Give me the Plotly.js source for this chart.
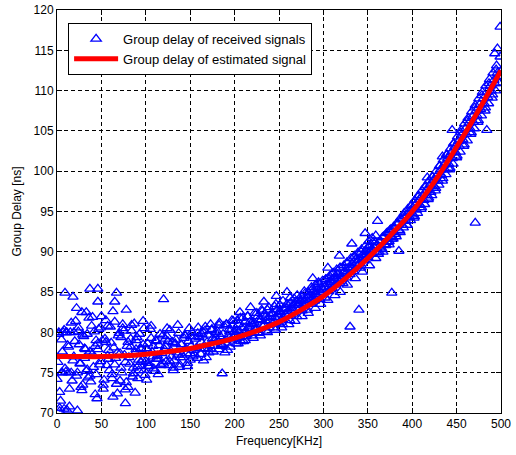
<!DOCTYPE html>
<html>
<head>
<meta charset="utf-8">
<script src="https://cdn.plot.ly/plotly-3.0.1.min.js"></script>
<style>html,body{margin:0;padding:0;background:#fff;}#chart{width:516px;height:455px;}</style>
</head>
<body>
<div id="chart"></div>
<script>
// Received group delay samples, set A at even frequencies
const freqA = [0,2,4,6,8,10,12,14,16,18,20,22,24,26,28,30,32,34,36,38,40,42,44,46,48,50,52,54,56,58,60,62,64,66,68,70,72,74,76,78,80,82,84,86,88,90,92,94,96,98,100,102,104,106,108,110,112,114,116,118,120,122,124,126,128,130,132,134,136,138,140,142,144,146,148,150,152,154,156,158,160,162,164,166,168,170,172,174,176,178,180,182,184,186,188,190,192,194,196,198,200,202,204,206,208,210,212,214,216,218,220,222,224,226,228,230,232,234,236,238,240,242,244,246,248,250,252,254,256,258,260,262,264,266,268,270,272,274,276,278,280,282,284,286,288,290,292,294,296,298,300,302,304,306,308,310,312,314,316,318,320,322,324,326,328,330,332,334,336,338,340,342,344,346,348,350,352,354,356,358,360,362,364,366,368,370,372,374,376,378,380,382,384,386,388,390,392,394,396,398,400,402,404,406,408,410,412,414,416,418,420,422,424,426,428,430,432,434,436,438,440,442,444,446,448,450,452,454,456,458,460,462,464,466,468,470,472,474,476,478,480,482,484,486,488,490,492,494,496,498,500];
const delayA = [
74.2,79.8,71.5,77.6,80.3,75.1,78.4,73.0,81.2,76.5,
78.9,74.6,80.6,76.2,72.8,79.5,77.9,75.4,81.8,73.9,
77.3,80.1,74.8,78.6,76.0,82.0,73.5,79.2,75.9,77.8,
80.7,74.3,78.1,76.8,72.4,79.9,75.6,81.0,77.2,73.8,
78.8,76.1,80.2,74.9,77.5,79.4,75.3,78.0,76.6,80.5,
76.4,78.6,75.8,79.3,77.0,75.2,78.9,76.7,79.8,77.4,
76.1,78.3,79.5,75.9,77.7,78.8,76.5,79.1,77.2,75.7,
78.5,76.9,79.6,77.4,78.9,76.6,80.0,77.8,79.2,76.8,
79.4,77.3,80.1,78.0,76.9,79.7,78.4,80.3,77.6,79.0,
80.2,77.9,79.5,78.3,80.8,78.7,77.8,80.4,79.1,80.9,
80.1,78.6,81.0,79.4,80.6,78.9,81.3,79.8,80.5,81.4,
79.6,81.2,80.4,82.0,80.0,81.6,80.7,82.3,80.2,81.8,
81.5,82.4,80.6,81.9,82.8,81.2,82.5,81.0,83.0,82.1,
82.6,81.5,83.2,82.3,83.6,82.0,83.4,84.0,82.7,83.8,
84.2,82.8,84.6,83.5,85.0,83.9,84.7,85.4,84.1,85.6,
85.2,84.3,86.0,85.1,86.4,85.5,86.8,85.9,87.2,86.3,
87.0,86.1,87.6,86.8,88.0,87.2,88.5,87.6,89.0,88.2,
89.0,88.0,89.6,88.9,90.2,89.3,90.8,89.8,91.2,90.4,
90.8,89.7,91.4,90.3,91.9,90.8,92.4,91.3,92.8,91.8,
93.0,91.9,93.5,92.6,94.0,93.0,94.4,93.3,94.9,93.9,
95.4,94.2,95.9,94.8,96.5,95.3,97.0,95.9,97.6,96.5,
98.3,97.0,98.9,97.6,99.5,98.3,100.2,98.8,100.8,99.6,
101.6,100.2,102.3,100.9,103.0,101.7,103.7,102.4,104.5,103.1,
105.3,103.8,106.0,104.6,106.8,105.3,107.5,106.1,108.3,106.9,
109.0,107.5,109.8,108.4,110.6,109.1,111.3,110.0,112.2,110.9,
112.4];
// set B at odd frequencies
const freqB = [1,3,5,7,9,11,13,15,17,19,21,23,25,27,29,31,33,35,37,39,41,43,45,47,49,51,53,55,57,59,61,63,65,67,69,71,73,75,77,79,81,83,85,87,89,91,93,95,97,99,101,103,105,107,109,111,113,115,117,119,121,123,125,127,129,131,133,135,137,139,141,143,145,147,149,151,153,155,157,159,161,163,165,167,169,171,173,175,177,179,181,183,185,187,189,191,193,195,197,199,201,203,205,207,209,211,213,215,217,219,221,223,225,227,229,231,233,235,237,239,241,243,245,247,249,251,253,255,257,259,261,263,265,267,269,271,273,275,277,279,281,283,285,287,289,291,293,295,297,299,301,303,305,307,309,311,313,315,317,319,321,323,325,327,329,331,333,335,337,339,341,343,345,347,349,351,353,355,357,359,361,363,365,367,369,371,373,375,377,379,381,383,385,387,389,391,393,395,397,399,401,403,405,407,409,411,413,415,417,419,421,423,425,427,429,431,433,435,437,439,441,443,445,447,449,451,453,455,457,459,461,463,465,467,469,471,473,475,477,479,481,483,485,487,489,491,493,495,497,499];
const delayB = [
76.3,72.6,79.1,80.0,75.5,70.4,78.2,80.0,74.0,77.0,
81.4,75.0,78.5,73.2,79.7,76.8,82.5,74.4,77.6,80.8,
75.7,78.3,71.8,80.4,76.4,79.0,74.1,81.5,77.1,75.3,
78.7,82.6,76.0,73.6,79.6,77.4,75.0,80.2,72.9,78.3,
76.9,79.2,74.5,81.1,77.9,75.8,79.8,76.3,78.5,74.7,
78.0,76.2,80.4,77.6,75.5,79.0,77.1,78.4,76.0,79.6,
77.9,76.4,78.9,80.3,77.0,75.6,78.6,77.5,79.9,76.9,
77.2,79.3,78.0,76.2,80.5,78.3,77.0,79.5,78.1,80.6,
78.0,79.8,76.5,80.7,78.8,77.5,81.0,79.2,78.3,80.0,
79.0,81.2,78.5,79.8,77.5,81.0,79.6,78.2,81.5,80.0,
79.7,81.5,80.2,78.9,81.8,80.0,79.5,82.0,80.8,79.9,
81.0,80.3,82.4,79.9,81.5,82.6,80.9,81.4,82.8,80.6,
82.0,81.1,83.2,81.7,82.2,83.4,81.6,82.9,82.3,83.5,
82.2,83.7,82.8,84.2,83.0,83.9,82.9,84.5,83.4,84.8,
83.6,85.0,84.0,85.3,84.4,85.9,84.5,86.0,85.0,86.4,
85.6,86.6,85.4,87.0,86.2,87.4,86.5,87.8,86.6,88.0,
86.7,88.3,87.3,88.6,87.8,89.2,88.0,89.5,88.6,89.9,
88.6,90.3,89.3,90.7,89.7,91.3,90.0,91.7,90.6,92.0,
89.9,91.2,90.5,91.8,90.9,92.3,91.2,92.7,91.6,93.1,
92.2,93.6,92.7,94.2,93.3,94.8,93.8,95.3,94.3,95.8,
94.6,96.4,95.2,97.0,95.8,97.6,96.4,98.2,97.0,98.8,
97.4,99.3,98.1,100.0,98.8,100.7,99.5,101.4,100.2,102.1,
100.9,102.8,101.6,103.5,102.3,104.3,103.1,105.1,103.9,105.9,
104.6,106.6,105.3,107.4,106.1,108.2,106.9,109.0,107.7,109.8,
108.4,110.6,109.2,111.4,110.0,112.2,110.9,113.1,111.8,114.2];
// set D, extra samples in the upper band
const freqD = [150.5,154.5,158.5,162.5,166.5,170.5,174.5,178.5,182.5,186.5,190.5,194.5,198.5,202.5,206.5,210.5,214.5,218.5,222.5,226.5,230.5,234.5,238.5,242.5,246.5,250.5,254.5,258.5,262.5,266.5,270.5,274.5,278.5,282.5,286.5,290.5,294.5,298.5,302.5,306.5,310.5,314.5,318.5,322.5,326.5,330.5,334.5,338.5,342.5,346.5,350.5,354.5,358.5,362.5,366.5,370.5,374.5,378.5,382.5,386.5,390.5,394.5,398.5,402.5,406.5,410.5,414.5,418.5,422.5,426.5,430.5,434.5,438.5,442.5,446.5,450.5,454.5,458.5,462.5,466.5,470.5,474.5,478.5,482.5,486.5,490.5,494.5,498.5];
const delayD = [79.5,77.2,79.9,78.8,80.2,77.9,80.4,79.3,80.9,78.4,
81.0,80.1,81.4,80.3,81.8,80.6,82.0,81.1,82.4,81.5,
82.8,81.9,83.1,82.3,83.5,82.6,83.9,83.0,84.3,83.4,
84.6,83.9,85.1,84.4,85.6,84.9,86.2,85.4,86.6,86.0,
87.3,86.7,88.0,87.4,88.7,88.1,89.4,88.9,90.0,89.6,
90.6,90.3,91.2,90.0,91.8,90.9,92.6,91.6,93.5,92.4,
94.5,93.3,95.6,94.4,96.8,95.5,98.0,96.7,99.3,97.9,
100.6,99.1,102.0,100.4,103.4,101.9,104.8,103.3,106.3,104.8,
107.9,106.3,109.4,107.9,110.9,109.5,112.6,111.0];
// set E, additional scattered samples
const freqE = [204,212,221,229,237,246,253,261,268,276,283,291,297,305,313,319,327,336,344,352,359,367,374,
  206,218,233,247,259,288,305,318,332,347,361,
  2,6,10,13,24,33,44,57,63,72,84,91,97,106,114,124,131,136,147];
const delayE = [78.6,79.0,79.3,79.6,80.0,80.3,80.6,81.0,81.4,82.0,82.4,83.0,83.5,84.0,84.6,85.0,85.9,86.7,87.5,88.3,89.2,90.0,90.9,
  82.5,83.1,83.8,84.5,85.0,86.7,88.0,89.5,91.0,92.3,93.8,
  80.0,75.0,80.0,75.0,80.1,75.2,79.0,80.8,72.0,79.4,80.9,74.3,81.4,80.8,74.8,80.5,75.3,80.9,75.8];
// extra noisy low-frequency samples
const freqC = [3,5,8,11,14,16,19,23,26,29,31,34,37,40,43,46,49,52,55,58,62,65,68,71,74,77,80,83,86,89,92,95,98,103,108,112,117,122,127,133,138,144,150];
const delayC = [70.2,75.0,70.5,80.0,70.8,75.0,80.0,70.3,76.1,73.5,78.0,79.8,74.6,81.9,72.3,77.9,80.6,73.0,78.8,76.7,74.8,81.3,77.5,74.0,80.5,76.3,73.2,78.2,75.6,79.0,76.6,77.9,75.3,75.8,78.3,76.7,75.9,79.2,76.4,78.6,76.0,79.7,77.4];
// outliers
const freqOut = [9,18,37,46,67,65,78,120,46,186,77,88,101,3,377,340,330,471,385,499,28,22,272,496,493,445,434,417,484];
const delayOut = [84.9,84.4,85.4,85.4,84.9,83.8,82.8,84.1,83.8,74.9,71.2,72.5,74.1,70.6,84.9,82.8,80.7,93.6,90.1,117.9,82.5,83.0,83.6,115.2,114.6,105.1,101.8,99.2,105.1];
// estimated signal group delay
const fitFreq = [0,25,50,75,100,125,150,175,200,225,250,275,300,325,350,375,400,425,450,475,500];
const fitDelay = [77.0,77.0,77.0,77.1,77.3,77.6,78.0,78.6,79.3,80.2,81.3,82.8,84.5,86.7,89.2,92.0,95.0,98.7,103.0,107.6,112.5];
const xTicks = [0,50,100,150,200,250,300,350,400,450,500];
const yTicks = [70,75,80,85,90,95,100,105,110,115,120];

const recX = [].concat(freqA, freqB, freqD, freqE, freqC, freqOut);
const recY = [].concat(delayA, delayB, delayD, delayE, delayC, delayOut);

const font = {family: 'Arial, "Liberation Sans", sans-serif', size: 12, color: '#000'};
const axisCommon = {
  showline: true, linecolor: '#000', linewidth: 1, mirror: 'ticks',
  ticks: 'inside', ticklen: 5, tickcolor: '#000', tickwidth: 1,
  showgrid: true, gridcolor: '#000', gridwidth: 1, griddash: '4px,3px',
  zeroline: false, tickfont: font, automargin: false
};

const traces = [
  {x: recX, y: recY, type: 'scatter', mode: 'markers', name: 'Group delay of received signals',
   marker: {symbol: 'triangle-up-open', size: 9, color: '#0000ff', line: {width: 1.3, color: '#0000ff'}}},
  {x: fitFreq, y: fitDelay, type: 'scatter', mode: 'lines', name: 'Group delay of estimated signal',
   line: {color: '#ff0000', width: 5, shape: 'spline'}}
];

const layout = {
  width: 516, height: 455,
  margin: {l: 57, r: 15, t: 10, b: 42},
  paper_bgcolor: '#fff', plot_bgcolor: '#fff',
  font: font,
  xaxis: Object.assign({}, axisCommon, {range: [0, 500], tickvals: xTicks, ticktext: xTicks.map(String),
    title: {text: 'Frequency[KHz]', font: font, standoff: 6}}),
  yaxis: Object.assign({}, axisCommon, {range: [70, 120], tickvals: yTicks, ticktext: yTicks.map(String),
    title: {text: 'Group Delay [ns]', font: font, standoff: 9}}),
  showlegend: true,
  legend: {x: 0.025, y: 0.968, xanchor: 'left', yanchor: 'top', bgcolor: '#fff',
    bordercolor: '#000', borderwidth: 1, font: Object.assign({}, font, {size: 13}), itemwidth: 44}
};

Plotly.newPlot('chart', traces, layout, {displayModeBar: false, staticPlot: true});
</script>
</body>
</html>
